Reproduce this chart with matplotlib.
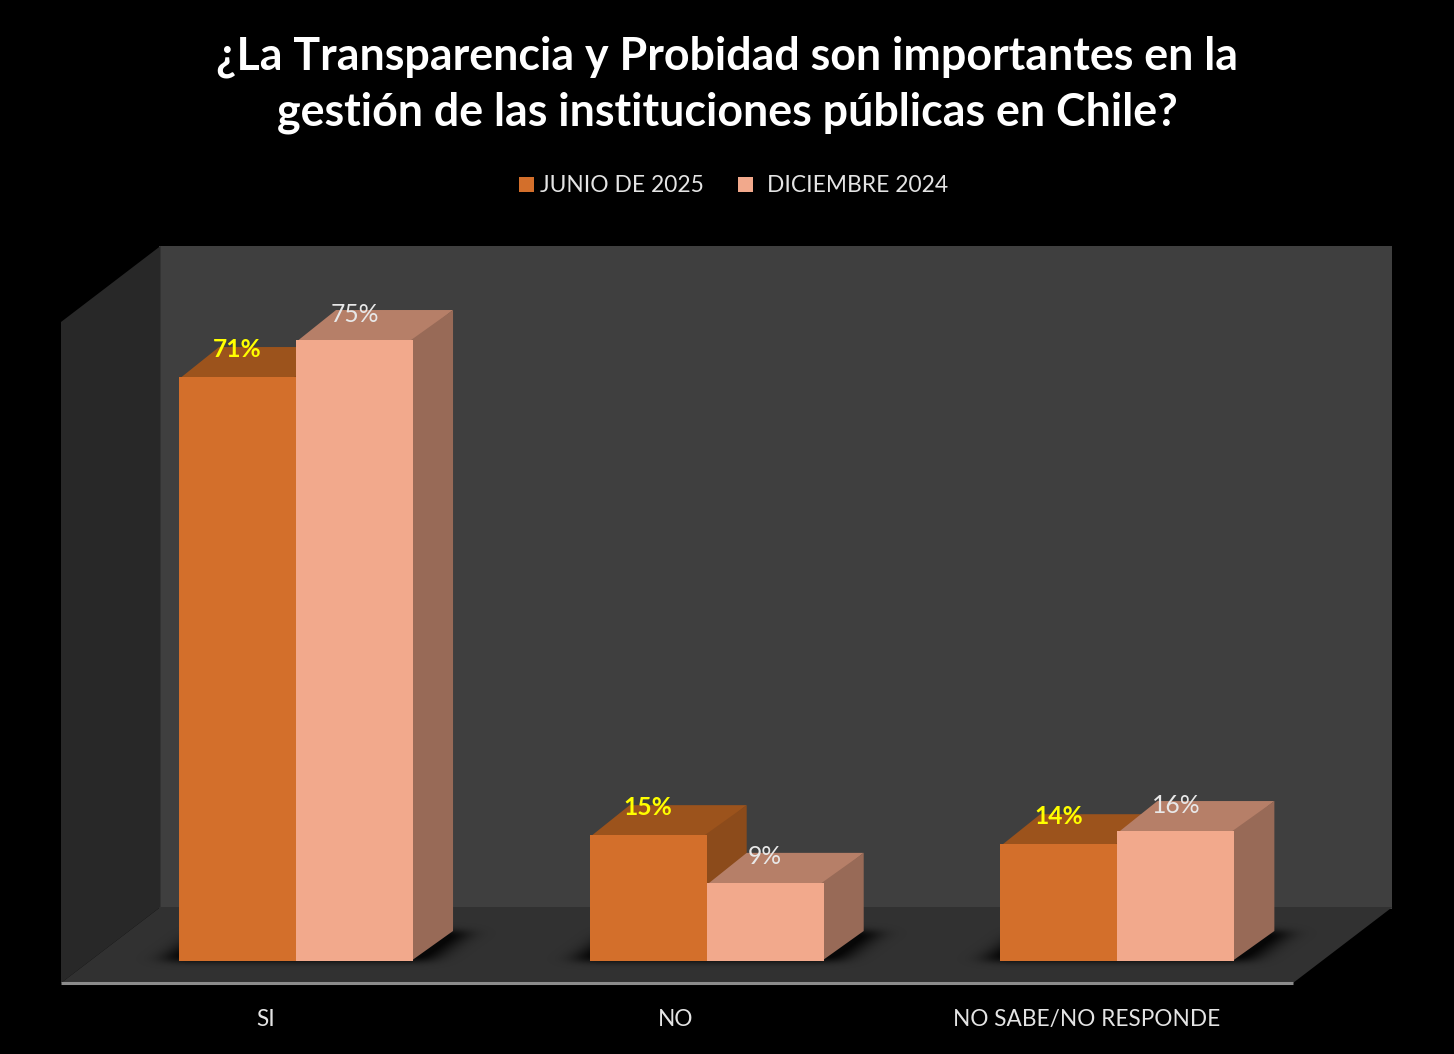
import matplotlib
matplotlib.use("Agg")
import matplotlib.pyplot as plt
import numpy as np
from matplotlib.patches import Patch

categories = ["SI", "NO", "NO SABE/NO RESPONDE"]
series_names = ["JUNIO DE 2025", "DICIEMBRE 2024"]
junio = [71.0, 15.3, 14.2]
diciembre = [75.5, 9.5, 15.8]
junio_labels = ["71%", "15%", "14%"]
diciembre_labels = ["75%", "9%", "16%"]
title = "¿La Transparencia y Probidad son importantes en la\ngestión de las instituciones públicas en Chile?"

W, H = 1454, 1054
plt.rcParams["font.family"] = ["Lato", "DejaVu Sans"]
fig = plt.figure(figsize=(W / 100, H / 100), dpi=100, facecolor="black")

# front plane of the plot box, in pixels
L, R, T, B = 61, 1293, 322, 983
ax = fig.add_axes([L / W, 1 - B / H, (R - L) / W, (B - T) / H], facecolor="none")
PX_X = (R - L) / 3.0
PX_Y = 8.225
ax.set_xlim(-0.5, 2.5)
ax.set_ylim(-(B - 961) / PX_Y, (961 - T) / PX_Y)
xlim, ylim = ax.get_xlim(), ax.get_ylim()
ymin, ymax = ylim

box_dx, box_dy = 99.5 / PX_X, 76 / PX_Y
bar_dx, bar_dy = 40 / PX_X, 30 / PX_Y
bar_w = 117.0 / PX_X
bar_off = -87.3 / PX_X
ovx, ovy = 2 / PX_X, 2 / PX_Y  # small overlaps that hide seams between faces

kw = dict(clip_on=False, lw=0)
# back wall, left wall, floor
ax.fill([-0.5 + box_dx - ovx, 2.5 + box_dx, 2.5 + box_dx, -0.5 + box_dx - ovx],
        [ymin + box_dy - ovy, ymin + box_dy - ovy, ymax + box_dy, ymax + box_dy], color="#3F3F3F", zorder=1, **kw)
ax.fill([-0.5, -0.5 + box_dx, -0.5 + box_dx, -0.5],
        [ymin, ymin + box_dy, ymax + box_dy, ymax], color="#282828", zorder=1.2, **kw)
ax.fill([-0.5, 2.5, 2.5 + box_dx, -0.5 + box_dx],
        [ymin, ymin, ymin + box_dy, ymin + box_dy], color="#313131", zorder=1.5, **kw)


def gauss_kernel(sigma):
    r = int(3 * sigma)
    k = np.exp(-0.5 * (np.arange(-r, r + 1) / sigma) ** 2)
    return k / k.sum()


# soft shadow on the floor under each pair of bars (pixel-size grid, blurred)
grow = 17 / PX_X
for i in range(3):
    x0 = i + bar_off
    x1 = x0 + 2 * bar_w
    gx = np.linspace(x0 - 80 / PX_X, x1 + bar_dx + 80 / PX_X, int(2 * bar_w * PX_X + 200))
    gy = np.linspace(-14 / PX_Y, bar_dy + 16 / PX_Y, 60)
    XX, YY = np.meshgrid(gx, gy)
    frac = YY / bar_dy
    mask = ((YY >= 0) & (YY <= bar_dy)
            & (XX >= x0 - grow + frac * bar_dx) & (XX <= x1 + grow + frac * bar_dx)).astype(float)
    kx, ky = gauss_kernel(12), gauss_kernel(3.5)
    mask = np.apply_along_axis(lambda r: np.convolve(r, kx, mode="same"), 1, mask)
    mask = np.apply_along_axis(lambda c: np.convolve(c, ky, mode="same"), 0, mask)
    rgba = np.zeros(mask.shape + (4,))
    rgba[..., 3] = np.clip(mask * 1.1, 0, 0.85)
    ax.imshow(rgba, extent=[gx[0], gx[-1], gy[0], gy[-1]], origin="lower", aspect="auto",
              zorder=2, clip_on=False, interpolation="bilinear")
ax.set_xlim(xlim)
ax.set_ylim(ylim)

styles = [
    dict(front="#D36F2B", top="#9C531C", side="#8C4B1B"),
    dict(front="#F2A98C", top="#B67F68", side="#986A57"),
]
for s, (vals, st) in enumerate(zip([junio, diciembre], styles)):
    xs = [i + bar_off + s * bar_w for i in range(3)]
    z = 3 + s
    for x, v in zip(xs, vals):
        ax.fill([x, x + bar_w, x + bar_w + bar_dx, x + bar_dx],
                [v - ovy, v - ovy, v + bar_dy, v + bar_dy], color=st["top"], zorder=z, **kw)
        ax.fill([x + bar_w - ovx, x + bar_w + bar_dx, x + bar_w + bar_dx, x + bar_w - ovx],
                [0, bar_dy, v + bar_dy, v], color=st["side"], zorder=z + 0.05, **kw)
    ax.bar(xs, vals, width=bar_w, align="edge", color=st["front"], zorder=z + 0.1, lw=0)

for i in range(3):
    x = i + bar_off
    ax.text(x + bar_w / 2, junio[i] + 27.5 / PX_Y, junio_labels[i], color="#FFFF00", fontsize=17.7,
            fontweight="bold", ha="center", va="center", zorder=10)
    ax.text(x + 1.5 * bar_w, diciembre[i] + 26 / PX_Y, diciembre_labels[i], color="#E8E8E8", fontsize=17.7,
            ha="center", va="center", zorder=10)

ax.set_xticks([i - 1 / PX_X for i in range(3)])
ax.set_xticklabels(categories, color="#E4E4E4", fontsize=16.3)
ax.tick_params(axis="x", length=0, pad=19)
ax.set_yticks([])
for name in ["top", "left", "right"]:
    ax.spines[name].set_visible(False)
ax.spines["bottom"].set_color("#8C8C8C")
ax.spines["bottom"].set_linewidth(2.2)
ax.spines["bottom"].set_capstyle("butt")
ax.spines["bottom"].set_zorder(6)

fig.text(727 / W, 1 - 85 / H, title, color="white", fontsize=32.2, fontweight="bold",
         ha="center", va="center", linespacing=1.41)

handles = [Patch(color=styles[0]["front"], lw=0), Patch(color=styles[1]["front"], lw=0)]
leg = fig.legend(handles, series_names, loc="center", bbox_to_anchor=(730 / W, 1 - 186 / H),
                 ncol=2, frameon=False, fontsize=16.4, labelcolor="#E4E4E4",
                 handlelength=0.66, handleheight=0.66, handletextpad=0.3, columnspacing=1.5,
                 borderpad=0, borderaxespad=0)
leg.get_texts()[1].set_position((7, 0))
fig.savefig("out.png", dpi=100, facecolor="black")
